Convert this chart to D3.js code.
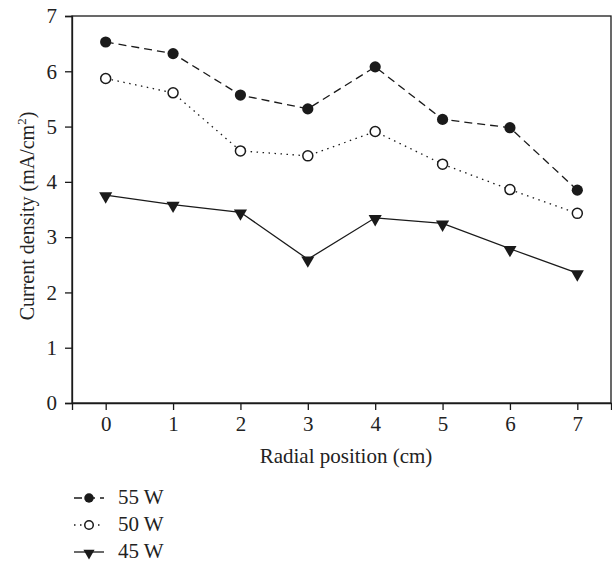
<!DOCTYPE html>
<html><head><meta charset="utf-8">
<script src="https://cdn.jsdelivr.net/npm/d3@7"></script>
<style>body{margin:0;background:#fff}svg{display:block}text{font-family:"Liberation Serif","DejaVu Serif",serif;fill:#222}</style>
</head><body>
<svg id="c" width="612" height="563"></svg>
<script>
const positions = [0,1,2,3,4,5,6,7];
const w55 = [6.53,6.32,5.57,5.32,6.08,5.13,4.98,3.85];
const w50 = [5.87,5.61,4.56,4.47,4.91,4.32,3.86,3.43];
const w45 = [3.76,3.59,3.45,2.60,3.35,3.25,2.79,2.35];
const seriesNames = ["55 W","50 W","45 W"];
const yTicks = [0,1,2,3,4,5,6,7];

const svg = d3.select("#c");
const L=72,R=611,T=16,B=403;
const x = d3.scaleLinear().domain([-0.5,7.5]).range([L,R]);
const y = d3.scaleLinear().domain([0,7]).range([B,T]);
const col="#1a1a1a";
const FS="20px";

svg.append("rect").attr("x",L).attr("y",T).attr("width",R-L).attr("height",B-T)
  .attr("fill","none").attr("stroke",col).attr("stroke-width",1.3);

const xa = svg.append("g").attr("transform",`translate(0,${B})`)
  .call(d3.axisBottom(x).tickValues(positions).tickSize(7).tickPadding(6).tickFormat(d3.format("d")));
const ya = svg.append("g").attr("transform",`translate(${L},0)`)
  .call(d3.axisLeft(y).tickValues(yTicks).tickSize(7).tickPadding(8).tickFormat(d3.format("d")));
[xa,ya].forEach(g=>{
  g.select(".domain").attr("stroke",col).attr("stroke-width",1.3);
  g.selectAll(".tick line").attr("stroke",col).attr("stroke-width",1.3);
  g.selectAll(".tick text").style("font-family","Liberation Serif, serif").style("font-size","21px").attr("fill","#222");
});

svg.append("text").attr("x",346).attr("y",463).attr("text-anchor","middle")
  .style("font-size","21px").text("Radial position (cm)");
const yt = svg.append("text").attr("transform",`translate(34,216) rotate(-90)`)
  .attr("text-anchor","middle").style("font-size",FS);
yt.append("tspan").text("Current density (mA/cm");
yt.append("tspan").attr("dy",-8).style("font-size","13px").text("2");
yt.append("tspan").attr("dy",8).text(")");

const line = d3.line().x((d,i)=>x(positions[i])).y(d=>y(d));
const styles = [
  {data:w55,dash:"8,5",marker:"filled"},
  {data:w50,dash:"1.5,4.5",marker:"open"},
  {data:w45,dash:null,marker:"tri"}
];
const tri = d3.symbol().type(d3.symbolTriangle).size(75);
function drawMarker(g,type,cx,cy,s){
  s = s||1;
  if(type==="filled") g.append("circle").attr("cx",cx).attr("cy",cy).attr("r",5.6*s).attr("fill",col);
  else if(type==="open") g.append("circle").attr("cx",cx).attr("cy",cy).attr("r",5.0*s).attr("fill","#fff").attr("stroke",col).attr("stroke-width",1.5);
  else g.append("path").attr("d",tri).attr("transform",`translate(${cx},${cy+1}) rotate(180) scale(${s})`).attr("fill",col);
}
styles.forEach(s=>{
  svg.append("path").datum(s.data).attr("d",line).attr("fill","none").attr("stroke",col)
    .attr("stroke-width",1.3).attr("stroke-dasharray",s.dash);
  const g=svg.append("g");
  s.data.forEach((v,i)=>drawMarker(g,s.marker,x(positions[i]),y(v)));
});

const legY=[498,525,552];
styles.forEach((s,i)=>{
  const g=svg.append("g");
  g.append("line").attr("x1",74).attr("x2",104).attr("y1",legY[i]).attr("y2",legY[i])
    .attr("stroke",col).attr("stroke-width",1.3).attr("stroke-dasharray",s.dash);
  drawMarker(g,s.marker,89,legY[i],0.85);
  g.append("text").attr("x",118).attr("y",legY[i]+6).style("font-size","21px").text(seriesNames[i]);
});
</script>
</body></html>
